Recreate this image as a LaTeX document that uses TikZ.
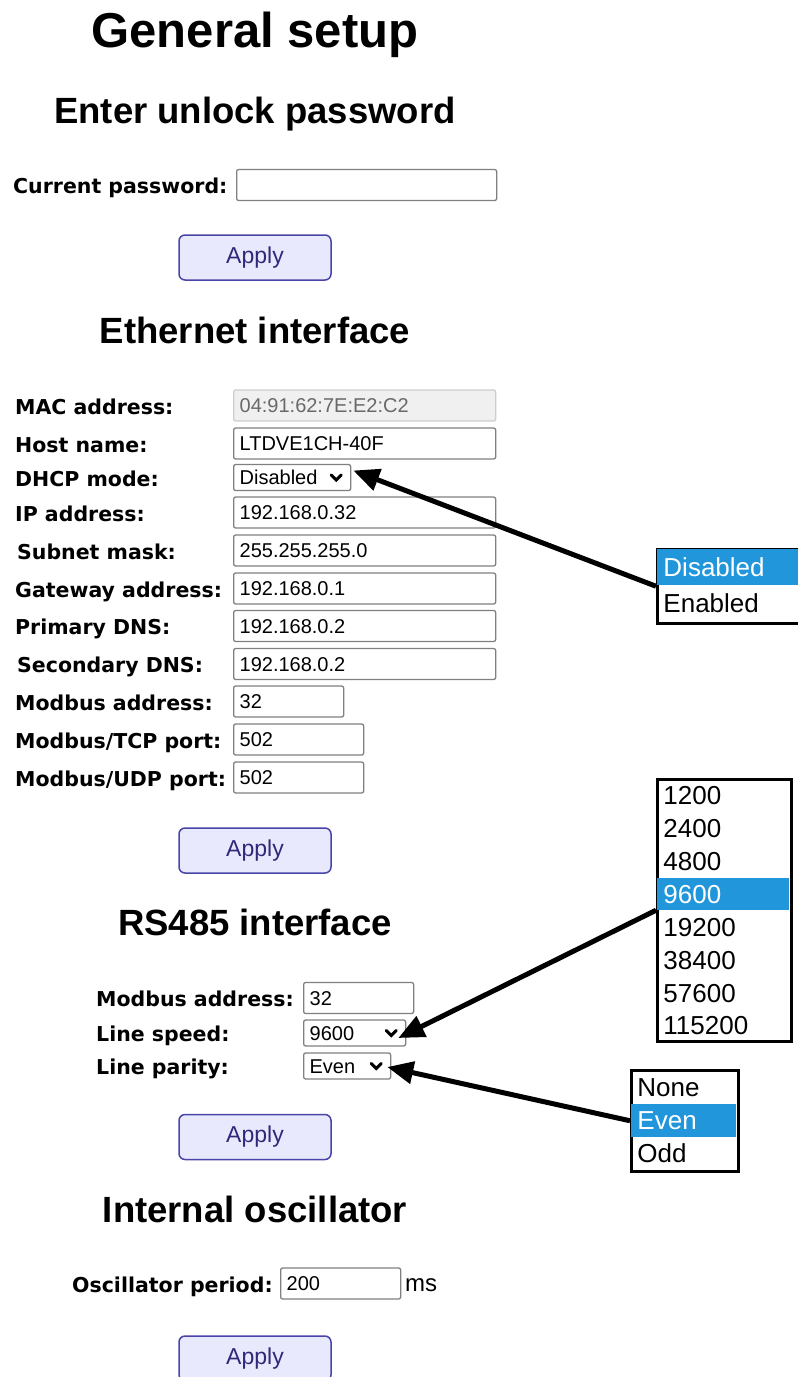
\documentclass[tikz,border=0pt]{standalone}
\usepackage{fontspec}
\setmainfont{Liberation Sans}
\newfontfamily\lblfamily{DejaVu Sans}
\usetikzlibrary{arrows.meta, positioning}

\definecolor{fieldgray}{RGB}{128,128,128}
\definecolor{macfill}{RGB}{240,240,240}
\definecolor{macdraw}{RGB}{205,205,205}
\definecolor{mactext}{RGB}{105,105,105}
\definecolor{btnfill}{RGB}{233,233,253}
\definecolor{btndraw}{RGB}{72,68,168}
\definecolor{btntext}{RGB}{48,40,120}
\definecolor{selblue}{RGB}{33,150,218}

\begin{document}
\begin{tikzpicture}[
    x=1pt, y=-1pt,
    every node/.style={inner sep=0pt},
    title/.style={anchor=base, font=\bfseries\fontsize{49}{56}\selectfont},
    heading/.style={anchor=base, font=\bfseries\fontsize{36.5}{42}\selectfont},
    fieldname/.style={anchor=base west, font=\lblfamily\bfseries\fontsize{20.5}{24}\selectfont},
    field/.style={draw=fieldgray, line width=1.3pt, rounded corners=2pt, anchor=west,
      minimum height=31pt, inner xsep=6pt, text width=#1, align=left,
      text height=14.3pt, text depth=0pt, font=\fontsize{20}{24}\selectfont},
    dropdown/.style={field=#1, minimum height=26pt},
    button/.style={draw=btndraw, fill=btnfill, line width=1.5pt, rounded corners=6pt,
      minimum width=152pt, minimum height=45pt, text=btntext, font=\fontsize{23}{27}\selectfont},
    chevron/.style={line width=3pt, line cap=round, line join=miter},
    listbox/.style={draw=black, line width=2.5pt, anchor=north west},
    option/.style={anchor=north west, inner xsep=6pt, text width=#1, align=left,
      text height=18.6pt, text depth=0pt, font=\fontsize{26}{30}\selectfont},
    chosen/.style={fill=selblue, text=white},
    arrow/.style={-{Triangle[length=26pt, width=22pt]}, line width=5pt}
  ]
  \path[use as bounding box, clip] (0,0) rectangle (798,1377);

  % Unlock
  \node[title] (gentitle) at (255,47) {General setup};
  \node[heading] (unlockhead) at (255,123) {Enter unlock password};
  \node[fieldname] (curpwlbl) at (13,193.5) {Current password:};
  \node[field=248pt] (curpw) at (236,185) {};
  \node[button] (apply1) at (255,257.5) {Apply};

  % Ethernet interface
  \node[heading] (ethhead) at (255,343) {Ethernet interface};
  \node[fieldname] (maclbl) at (15,414) {MAC address:};
  \node[field=250pt, draw=macdraw, fill=macfill, text=mactext] (mac) at (233,405.5) {04:91:62:7E:E2:C2};
  \node[fieldname] (hostlbl) at (15,452) {Host name:};
  \node[field=250pt] (host) at (233,443.5) {LTDVE1CH-40F};
  \node[fieldname] (dhcplbl) at (15,486) {DHCP mode:};
  \node[dropdown=105pt] (dhcp) at (233,477.5) {Disabled};
  \node[fieldname] (iplbl) at (15,521) {IP address:};
  \node[field=250pt] (ip) at (233,512.5) {192.168.0.32};
  \node[fieldname] (masklbl) at (17,559) {Subnet mask:};
  \node[field=250pt] (mask) at (233,550.5) {255.255.255.0};
  \node[fieldname] (gwlbl) at (15,597) {Gateway address:};
  \node[field=250pt] (gw) at (233,588.5) {192.168.0.1};
  \node[fieldname] (dns1lbl) at (15,634.5) {Primary DNS:};
  \node[field=250pt] (dns1) at (233,626) {192.168.0.2};
  \node[fieldname] (dns2lbl) at (17,672.5) {Secondary DNS:};
  \node[field=250pt] (dns2) at (233,664) {192.168.0.2};
  \node[fieldname] (mbaddrlbl) at (15,710) {Modbus address:};
  \node[field=98pt] (mbaddr) at (233,701.5) {32};
  \node[fieldname] (tcplbl) at (15,748) {Modbus/TCP port:};
  \node[field=118pt] (tcp) at (233,739.5) {502};
  \node[fieldname] (udplbl) at (15,786) {Modbus/UDP port:};
  \node[field=118pt] (udp) at (233,777.5) {502};
  \node[button] (apply2) at (255,850.5) {Apply};

  % RS485 interface
  \node[heading] (rshead) at (255,935) {RS485 interface};
  \node[fieldname] (rsaddrlbl) at (96,1006.5) {Modbus address:};
  \node[field=98pt] (rsaddr) at (303,998) {32};
  \node[fieldname] (spdlbl) at (96,1041.5) {Line speed:};
  \node[dropdown=90pt] (spd) at (303,1033) {9600};
  \node[fieldname] (parlbl) at (96,1074.5) {Line parity:};
  \node[dropdown=75pt] (par) at (303,1066) {Even};
  \node[button] (apply3) at (255,1137) {Apply};

  % Internal oscillator
  \node[heading] (oschead) at (255,1222) {Internal oscillator};
  \node[fieldname] (osclbl) at (72,1292) {Oscillator period:};
  \node[field=108pt] (osc) at (280,1283.5) {200};
  \node[anchor=base west, font=\fontsize{24}{28}\selectfont] (msunit) at (405,1291) {ms};
  \node[button] (apply4) at (255,1358.5) {Apply};

  % Chevrons
  \draw[chevron] ([shift={(-20,-2.5)}]dhcp.east) -- ++(5,5) -- ++(5,-5);
  \draw[chevron] ([shift={(-20,-2.5)}]spd.east) -- ++(5,5) -- ++(5,-5);
  \draw[chevron] ([shift={(-20,-2.5)}]par.east) -- ++(5,5) -- ++(5,-5);

  % Opened lists
  \node[listbox, minimum width=160pt, minimum height=74pt] (dhcplist) at (656,548) {};
  \node[option=148pt, minimum height=35.75pt, chosen] (optdis) at (657.25,549.25) {Disabled};
  \node[option=148pt, minimum height=35.75pt] (optena) at (657.25,585) {Enabled};

  \node[listbox, minimum width=134pt, minimum height=262pt] (baudlist) at (656,778) {};
  \node[option=119.5pt, minimum height=32.44pt] (b1200) at (657.25,779.25) {1200};
  \node[option=119.5pt, minimum height=32.44pt, below=0pt of b1200] (b2400) {2400};
  \node[option=119.5pt, minimum height=32.44pt, below=0pt of b2400] (b4800) {4800};
  \node[option=119.5pt, minimum height=32.44pt, below=0pt of b4800, chosen] (b9600) {9600};
  \node[option=119.5pt, minimum height=32.44pt, below=0pt of b9600] (b19200) {19200};
  \node[option=119.5pt, minimum height=32.44pt, below=0pt of b19200] (b38400) {38400};
  \node[option=119.5pt, minimum height=32.44pt, below=0pt of b38400] (b57600) {57600};
  \node[option=119.5pt, minimum height=32.44pt, below=0pt of b57600] (b115200) {115200};

  \node[listbox, minimum width=107pt, minimum height=101pt] (parlist) at (630,1069) {};
  \node[option=92.5pt, minimum height=32.83pt] (pnone) at (631.25,1070.25) {None};
  \node[option=92.5pt, minimum height=32.83pt, below=0pt of pnone, chosen] (peven) {Even};
  \node[option=92.5pt, minimum height=32.83pt, below=0pt of peven] (podd) {Odd};

  % Arrows
  \draw[arrow] (dhcplist.west) -- ([shift={(2,-7)}]dhcp.east);
  \draw[arrow] (baudlist.west) -- ([shift={(-8,5)}]spd.east);
  \draw[arrow] (parlist.west) -- ([shift={(-4,1)}]par.east);
\end{tikzpicture}
\end{document}
